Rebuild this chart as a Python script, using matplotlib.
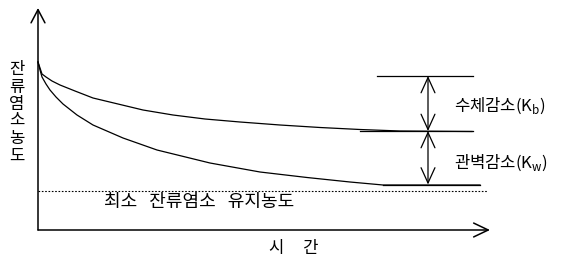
import matplotlib
matplotlib.use("Agg")
import matplotlib.pyplot as plt

plt.rcParams['font.family'] = ['Noto Sans CJK KR', 'DejaVu Sans']

# Data (time, residual chlorine concentration)
upper_t = [0, 2, 4, 8, 14, 22, 37, 55, 80, 105, 135, 167, 202, 242, 282, 322, 362, 434]
upper_c = [168, 162, 156, 153, 149, 145, 139, 132, 126, 120, 115, 111, 108, 105, 102.5, 100.5, 99, 98.5]
lower_t = [0, 2, 4, 8, 12, 18, 25, 39, 55, 85, 119, 172, 222, 269, 312, 345, 442]
lower_c = [168, 160, 153, 146, 140, 133, 126, 115, 105, 92, 80, 67, 58, 52.5, 48, 45, 45]

min_level = 39.5
level_top = 154
level_mid = 99
level_bot = 45.5

y_label = "잔류염소농도"
x_label = "시     간"
min_label = "최소   잔류염소   유지농도"
kb_label = "수체감소(K$_\\mathregular{b}$)"
kw_label = "관벽감소(K$_\\mathregular{w}$)"

fig = plt.figure(figsize=(5.63, 2.75), dpi=100)
ax = fig.add_axes([0, 0, 1, 1])
ax.set_xlim(-38, 525)
ax.set_ylim(-45, 230)
ax.axis('off')

# axes arrows
ax.annotate('', xy=(0, 222), xytext=(0, 0),
            arrowprops=dict(arrowstyle='->,head_length=0.95,head_width=0.5', lw=1.1, color='black', shrinkA=0, shrinkB=0))
ax.annotate('', xy=(452, 0), xytext=(0, 0),
            arrowprops=dict(arrowstyle='->,head_length=1.05,head_width=0.5', lw=1.1, color='black', shrinkA=0, shrinkB=0))

# curves
ax.plot(upper_t, upper_c, color='black', lw=0.9)
ax.plot(lower_t, lower_c, color='black', lw=0.9)

# minimum level
ax.plot([0, 449], [min_level, min_level], color='black', lw=0.8, linestyle=(0, (1.5, 1.5)))

# reference levels
ax.plot([339, 435], [level_top, level_top], color='black', lw=0.9)
ax.plot([322, 435], [level_mid, level_mid], color='black', lw=0.9)
ax.plot([345, 442], [level_bot, level_bot], color='black', lw=0.9)

arrow_t = 390
for a, b in [(level_top, level_mid), (level_mid, level_bot)]:
    ax.annotate('', xy=(arrow_t, b), xytext=(arrow_t, a),
                arrowprops=dict(arrowstyle='<->,head_length=1.1,head_width=0.5', lw=0.9, color='black', shrinkA=0, shrinkB=0))

ax.text(416, 124, kb_label, fontsize=12, ha='left', va='center')
ax.text(416, 67, kw_label, fontsize=12, ha='left', va='center')
ax.text(66, 27.5, min_label, fontsize=13, ha='left', va='center')
ax.text(256, -18.5, x_label, fontsize=12, ha='center', va='center')
ax.text(-21, 117, "\n".join(y_label), fontsize=12, ha='center', va='center', linespacing=1.02)

fig.savefig('out.png', dpi=100)
